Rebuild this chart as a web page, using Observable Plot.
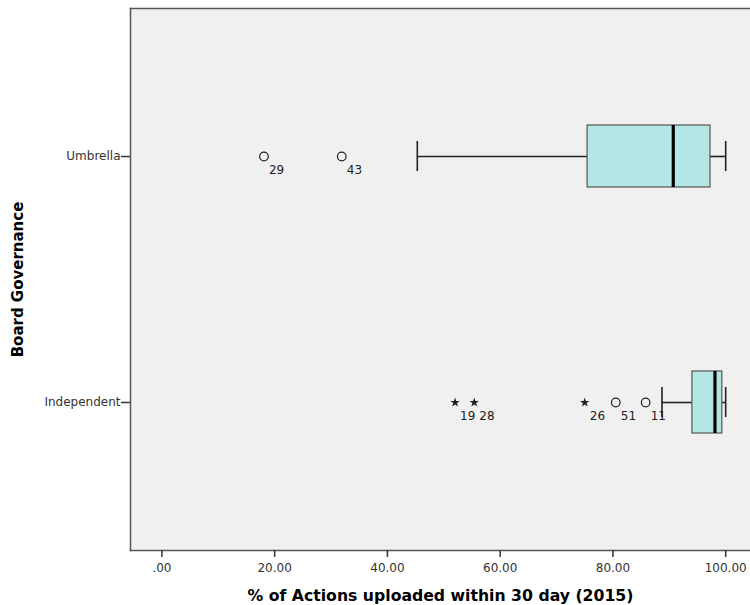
<!DOCTYPE html>
<html>
<head>
<meta charset="utf-8">
<script src="https://cdn.jsdelivr.net/npm/d3@7"></script>
<script src="https://cdn.jsdelivr.net/npm/@observablehq/plot@0.6"></script>
<style>
  html, body { margin: 0; padding: 0; background: #fff; overflow: hidden; }
  #chart svg { display: block; }
  #chart [aria-label="x-axis label"] { font-weight: bold; font-size: 15.7px; fill: #000; }
  #chart [aria-label="y-axis label"] { font-weight: bold; font-size: 15px; fill: #000; }
</style>
</head>
<body>
<div id="chart"></div>
<script>
// Categories (top to bottom)
const groups = ["Umbrella", "Independent"];
// Box statistics per group
const q1 = [75.5, 94.1];
const median = [90.7, 98.1];
const q3 = [97.3, 99.4];
const whiskerLow = [45.3, 88.7];
const whiskerHigh = [100, 100];
// Outliers
const outlierGroup = ["Umbrella", "Umbrella", "Independent", "Independent", "Independent", "Independent", "Independent"];
const outlierValue = [18.1, 31.9, 52.0, 55.4, 75.0, 80.5, 85.8];
const outlierLabel = ["29", "43", "19", "28", "26", "51", "11"];
const outlierKind = ["circle", "circle", "star", "star", "star", "circle", "circle"];
// Axis ticks
const xTicks = [0, 20, 40, 60, 80, 100];
const xTickLabels = [".00", "20.00", "40.00", "60.00", "80.00", "100.00"];

const boxes = groups.map((g, i) => ({
  group: g, q1: q1[i], median: median[i], q3: q3[i], lo: whiskerLow[i], hi: whiskerHigh[i]
}));
const outliers = outlierValue.map((v, i) => ({
  group: outlierGroup[i], value: v, label: outlierLabel[i], kind: outlierKind[i]
}));
const circles = outliers.filter(d => d.kind === "circle");
const stars = outliers.filter(d => d.kind === "star");

const chart = Plot.plot({
  width: 750,
  height: 605,
  marginLeft: 130,
  marginRight: 0,
  marginTop: 8,
  marginBottom: 55,
  style: { fontFamily: "DejaVu Sans, sans-serif", fontSize: "12px", color: "#333", background: "#fff" },
  x: { domain: [-5.57, 104.4] },
  y: { type: "band", domain: groups, paddingInner: 0.748, paddingOuter: 0.4756 },
  marks: [
    Plot.frame({ fill: "#f0f0f0", stroke: null }),
    Plot.frame({ anchor: "left", stroke: "#555", strokeWidth: 1.5 }),
    Plot.frame({ anchor: "top", stroke: "#555", strokeWidth: 1.5 }),
    Plot.frame({ anchor: "bottom", stroke: "#555", strokeWidth: 1.5 }),
    Plot.axisX({
      ticks: xTicks,
      tickFormat: (d) => xTickLabels[xTicks.indexOf(d)],
      tickSize: 7,
      tickPadding: 6,
      stroke: "#333",
      strokeWidth: 1.5,
      fill: "#333",
      label: "% of Actions uploaded within 30 day (2015)",
      labelAnchor: "center",
      labelArrow: "none",
      labelOffset: 50
    }),
    Plot.axisY({
      tickSize: 9,
      tickPadding: 1,
      stroke: "#333",
      strokeWidth: 1.5,
      fill: "#333",
      label: "Board Governance",
      labelAnchor: "center",
      labelArrow: "none",
      labelOffset: 118
    }),
    // whiskers
    Plot.ruleY(boxes, { y: "group", x1: "lo", x2: "q1", stroke: "#222", strokeWidth: 1.6 }),
    Plot.ruleY(boxes, { y: "group", x1: "q3", x2: "hi", stroke: "#222", strokeWidth: 1.6 }),
    Plot.tickX(boxes, { x: "lo", y: "group", stroke: "#222", strokeWidth: 1.6, insetTop: 16, insetBottom: 16 }),
    Plot.tickX(boxes, { x: "hi", y: "group", stroke: "#222", strokeWidth: 1.6, insetTop: 16, insetBottom: 16 }),
    // boxes
    Plot.barX(boxes, { y: "group", x1: "q1", x2: "q3", fill: "#b4e6e6", stroke: "#555", strokeWidth: 1.2 }),
    Plot.tickX(boxes, { x: "median", y: "group", stroke: "#000", strokeWidth: 3.2 }),
    // outliers
    Plot.dot(circles, { x: "value", y: "group", r: 4.3, stroke: "#222", strokeWidth: 1.2, fill: "none" }),
    Plot.dot(stars, { x: "value", y: "group", r: 3, symbol: "star", fill: "#222", stroke: null }),
    Plot.text(outliers, { x: "value", y: "group", text: "label", textAnchor: "start", dx: 5, dy: 14, fill: "#222", fontSize: 12 })
  ]
});
document.getElementById("chart").append(chart);
</script>
</body>
</html>
